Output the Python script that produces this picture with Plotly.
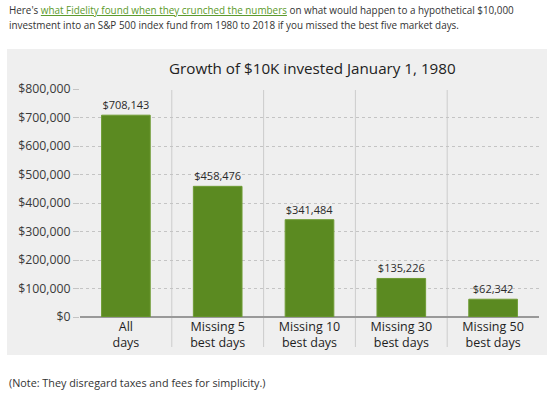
import plotly.graph_objects as go

categories = ["All<br>days", "Missing 5<br>best days", "Missing 10<br>best days",
              "Missing 30<br>best days", "Missing 50<br>best days"]
values = [708143, 458476, 341484, 135226, 62342]
value_labels = ["$708,143", "$458,476", "$341,484", "$135,226", "$62,342"]
y_ticks = [0, 100000, 200000, 300000, 400000, 500000, 600000, 700000, 800000]
y_tick_labels = ["$0", "$100,000", "$200,000", "$300,000", "$400,000",
                 "$500,000", "$600,000", "$700,000", "$800,000"]

W, H = 547, 393
L, R, T, B = 80, 8, 89, 76
pw, ph = W - L - R, H - T - B

def px(x):
    return (x - L) / pw

def py(y):
    return (H - B - y) / ph

xs = list(range(len(categories)))

fig = go.Figure()
fig.add_trace(go.Bar(
    x=xs, y=values, width=0.53,
    marker=dict(color="#5b8a21", line=dict(color="#6f9c35", width=1)),
    text=value_labels, textposition="outside", cliponaxis=False,
    textfont=dict(family="Open Sans", size=11, color="#2a2a2a"),
    hoverinfo="skip",
))

shapes = [dict(type="rect", xref="paper", yref="paper", x0=px(7), x1=px(547),
               y0=py(355), y1=py(49), fillcolor="#efefef", line=dict(width=0), layer="below")]
for i in range(len(categories) - 1):
    shapes.append(dict(type="line", xref="x", yref="paper", x0=i + 0.5, x1=i + 0.5,
                       y0=py(347), y1=py(90), line=dict(color="#cccccc", width=1), layer="below"))

annotations = [
    dict(text="Here's <span style='color:#5c9a2c'><u>what Fidelity found when they crunched the numbers</u></span> on what would happen to a hypothetical $10,000",
         xref="paper", yref="paper", x=px(7), y=py(10), xanchor="left", yanchor="middle",
         showarrow=False, font=dict(family="Open Sans", size=9.9, color="#333333")),
    dict(text="investment into an S&P 500 index fund from 1980 to 2018 if you missed the best five market days.",
         xref="paper", yref="paper", x=px(7), y=py(25), xanchor="left", yanchor="middle",
         showarrow=False, font=dict(family="Open Sans", size=9.9, color="#333333")),
    dict(text="Growth of $10K invested January 1, 1980",
         xref="paper", yref="paper", x=px(312), y=py(68), xanchor="center", yanchor="middle",
         showarrow=False, font=dict(family="Open Sans", size=15.2, color="#222222")),
    dict(text="(Note: They disregard taxes and fees for simplicity.)",
         xref="paper", yref="paper", x=px(7), y=py(382), xanchor="left", yanchor="middle",
         showarrow=False, font=dict(family="Open Sans", size=10.8, color="#333333")),
]

fig.update_layout(
    width=W, height=H, margin=dict(l=L, r=R, t=T, b=B, autoexpand=False),
    paper_bgcolor="white", plot_bgcolor="rgba(0,0,0,0)",
    showlegend=False, shapes=shapes, annotations=annotations,
    font=dict(family="Open Sans", color="#444444"),
    xaxis=dict(tickvals=xs, ticktext=categories, range=[-0.5, 4.5], showgrid=False,
               zeroline=False, showline=False, ticks="",
               tickfont=dict(family="Open Sans", size=12.5, color="#1e1e1e")),
    yaxis=dict(range=[0, 800000], tickvals=y_ticks, ticktext=y_tick_labels,
               showgrid=True, gridcolor="#c4c4c4", griddash="dot", gridwidth=1,
               zeroline=True, zerolinecolor="#999999", zerolinewidth=1.5,
               ticks="outside", ticklen=6, tickcolor="#c4c4c4",
               tickfont=dict(family="Open Sans", size=12.3, color="#3a3a3a")),
)

fig.write_html("out.html", config={"displayModeBar": False},
               post_script="document.body.style.margin='0';document.body.style.padding='0';")
